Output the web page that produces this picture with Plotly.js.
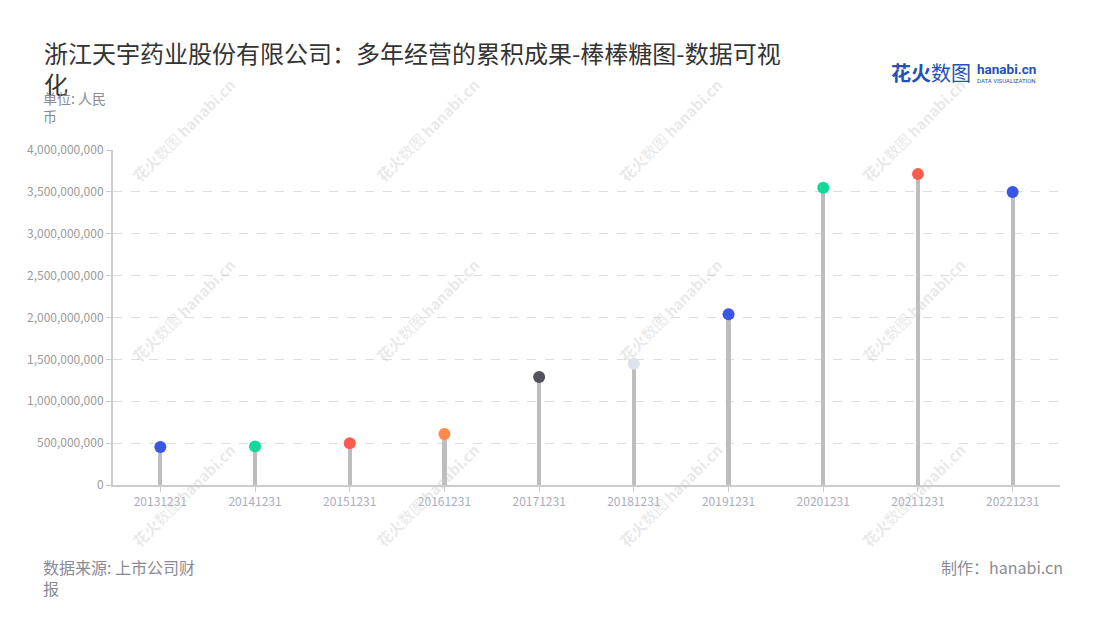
<!DOCTYPE html>
<html>
<head>
<meta charset="utf-8">
<script src="https://cdn.plot.ly/plotly-3.0.1.min.js"></script>
<style>
html,body{margin:0;padding:0;background:#fff;}
#chart{width:1100px;height:620px;}
</style>
</head>
<body>
<div id="chart"></div>
<script>
const categories = ["20131231","20141231","20151231","20161231","20171231","20181231","20191231","20201231","20211231","20221231"];
const values = [455000000, 460000000, 498000000, 609000000, 1290000000, 1448000000, 2040000000, 3548000000, 3712000000, 3498000000];
const dotColors = ["#3a56e8","#12d999","#ff5b4f","#ff8a4c","#52525c","#dde2ec","#3a56e8","#12d999","#ff5b4f","#3a56e8"];
const yTickVals = [0,500000000,1000000000,1500000000,2000000000,2500000000,3000000000,3500000000,4000000000];
const yTickText = ["0","500,000,000","1,000,000,000","1,500,000,000","2,000,000,000","2,500,000,000","3,000,000,000","3,500,000,000","4,000,000,000"];

const font = "'Noto Sans CJK SC','Noto Sans',sans-serif";

const stems = {
  type: "bar",
  x: categories,
  y: values,
  width: 0.045,
  marker: {color: "#bdbdbd", line: {width: 0}},
  hoverinfo: "skip",
  showlegend: false
};
const dots = {
  type: "scatter",
  mode: "markers",
  x: categories,
  y: values,
  marker: {color: dotColors, size: 12, line: {width: 0}},
  cliponaxis: false,
  showlegend: false
};

const W = 1100, H = 620;
const mL = 113, mR = 40, mT = 150, mB = 135;
const pw = W - mL - mR, ph = H - mT - mB;
function px(x){ return (x - mL) / pw; }
function py(y){ return (H - mB - y) / ph; }

const annotations = [];

// faint watermarks (drawn first, underneath other texts)
const wmX = [183, 427, 670, 913];
const wmY = [130, 310, 495];
wmY.forEach(y=>wmX.forEach(x=>{
  annotations.push({text: "<b>花火</b>数图 <b>hanabi.cn</b>", xref: "paper", yref: "paper", x: px(x), y: py(y),
    xanchor: "center", yanchor: "middle", showarrow: false, textangle: -45,
    font: {family: font, size: 15, color: "rgba(205,205,205,0.45)"}});
}));

annotations.push(
  {text: "单位: 人民<br>币", xref: "paper", yref: "paper", x: px(41), y: py(86), xanchor: "left", yanchor: "top",
   showarrow: false, align: "left", font: {family: font, size: 14, color: "#8a8a96"}},
  {text: "数据来源: 上市公司财<br>报", xref: "paper", yref: "paper", x: px(41), y: py(553), xanchor: "left", yanchor: "top",
   showarrow: false, align: "left", font: {family: font, size: 16, color: "#8a8a96"}},
  {text: "制作：hanabi.cn", xref: "paper", yref: "paper", x: px(1065), y: py(553), xanchor: "right", yanchor: "top",
   showarrow: false, align: "right", font: {family: font, size: 16, color: "#8a8a96"}},
  {text: "<b>花火</b>数图", xref: "paper", yref: "paper", x: px(889), y: py(72), xanchor: "left", yanchor: "middle",
   showarrow: false, font: {family: font, size: 20, color: "#2450b8"}},
  {text: "<b>hanabi.cn</b>", xref: "paper", yref: "paper", x: px(975), y: py(69), xanchor: "left", yanchor: "middle",
   showarrow: false, font: {family: "Roboto, 'Liberation Sans', sans-serif", size: 13.5, color: "#2450b8"}},
  {text: "DATA VISUALIZATION", xref: "paper", yref: "paper", x: px(975), y: py(80), xanchor: "left", yanchor: "middle",
   showarrow: false, font: {family: "Roboto, 'Liberation Sans', sans-serif", size: 6, color: "#2450b8"}}
);

const layout = {
  width: W, height: H,
  margin: {l: mL, r: mR, t: mT, b: mB},
  paper_bgcolor: "#fff",
  plot_bgcolor: "#fff",
  title: {
    text: "浙江天宇药业股份有限公司：多年经营的累积成果-棒棒糖图-数据可视<br>化",
    x: 44/W, xanchor: "left", y: 1 - 63/H, yanchor: "top",
    font: {family: font, size: 24, color: "#333"}
  },
  xaxis: {
    type: "category",
    range: [-0.5, 9.5],
    showline: true, linecolor: "#cccccc", linewidth: 2,
    ticks: "outside", ticklen: 5, tickcolor: "#cccccc",
    showgrid: false, zeroline: false,
    tickfont: {family: font, size: 12, color: "#a9adbd"}
  },
  yaxis: {
    range: [0, 4000000000],
    tickvals: yTickVals, ticktext: yTickText,
    showline: true, linecolor: "#cccccc", linewidth: 2,
    ticks: "outside", ticklen: 5, tickcolor: "#cccccc",
    showgrid: true, gridcolor: "#dddddd", griddash: "dash", gridwidth: 1,
    zeroline: false,
    tickfont: {family: font, size: 12, color: "#9a9a9a"}
  },
  bargap: 0,
  annotations: annotations
};

Plotly.newPlot("chart", [stems, dots], layout, {displayModeBar: false, staticPlot: true});
</script>
</body>
</html>
